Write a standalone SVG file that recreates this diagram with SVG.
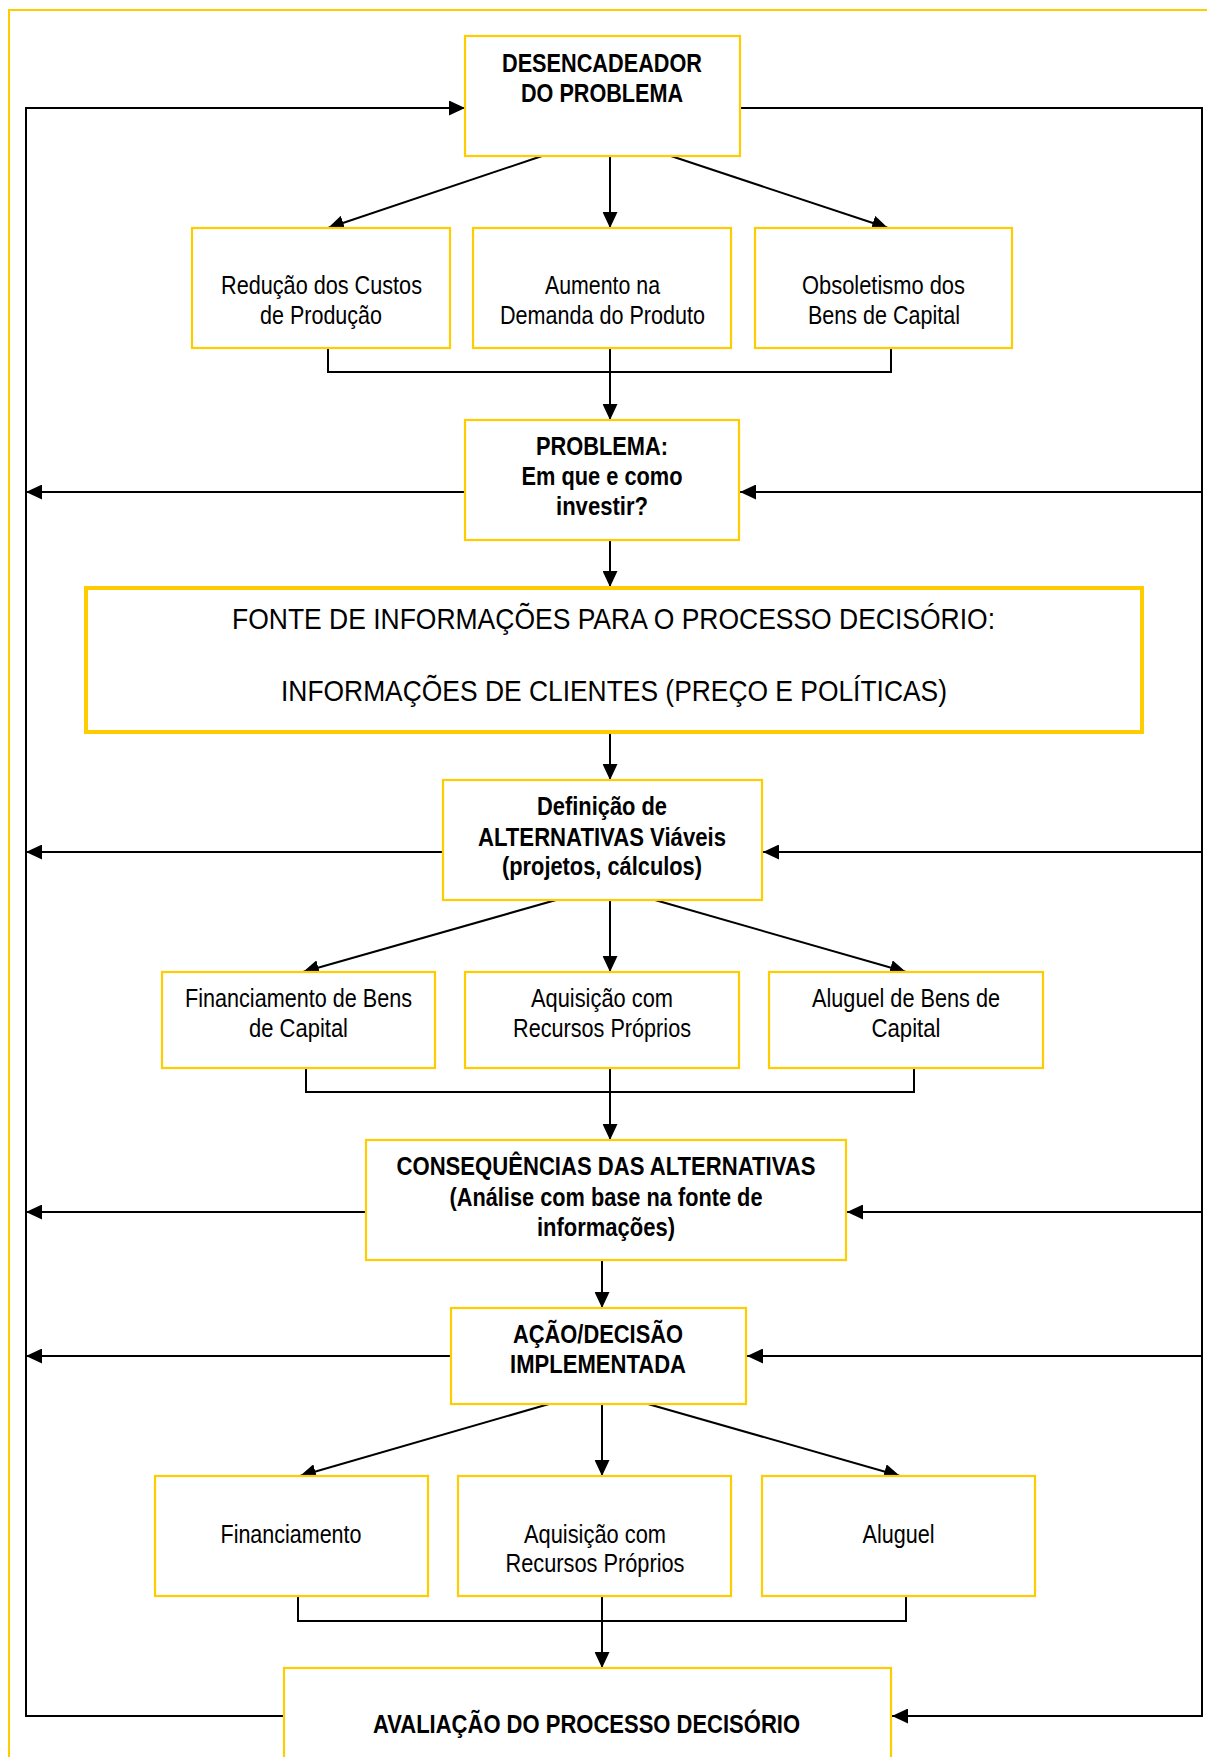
<svg xmlns="http://www.w3.org/2000/svg" width="1207" height="1757" viewBox="0 0 1207 1757">
<style>
.box{fill:#fff;stroke:#FFCC00;stroke-width:2.2}
.big{fill:#fff;stroke:#FFCC00;stroke-width:4}
.c{fill:none;stroke:#000;stroke-width:2}
text{font-family:'Liberation Sans Narrow','Arial Narrow','Liberation Sans',sans-serif;fill:#000;text-anchor:middle}
.h{font-size:26px;font-weight:bold}
.n{font-size:26px;font-weight:normal}
.f{font-size:29px;font-weight:normal}
</style>
<defs>
<marker id="ah" markerUnits="userSpaceOnUse" markerWidth="16" markerHeight="15" refX="16" refY="7.5" orient="auto">
<path d="M0,0 L16,7.5 L0,15 z" fill="#000"/>
</marker>
</defs>
<rect x="9" y="10" width="1215" height="1770" fill="#fff" stroke="#FFCC00" stroke-width="2"/>

<g id="connectors">
<path class="c" d="M284,1716 L26,1716 L26,108 L465,108" marker-end="url(#ah)"/>
<path class="c" d="M740,108 L1202,108 L1202,1716 L892,1716" marker-end="url(#ah)"/>
<path class="c" d="M465,492 L26,492" marker-end="url(#ah)"/>
<path class="c" d="M1202,492 L740,492" marker-end="url(#ah)"/>
<path class="c" d="M443,852 L26,852" marker-end="url(#ah)"/>
<path class="c" d="M1202,852 L763,852" marker-end="url(#ah)"/>
<path class="c" d="M366,1212 L26,1212" marker-end="url(#ah)"/>
<path class="c" d="M1202,1212 L847,1212" marker-end="url(#ah)"/>
<path class="c" d="M451,1356 L26,1356" marker-end="url(#ah)"/>
<path class="c" d="M1202,1356 L747,1356" marker-end="url(#ah)"/>

<path class="c" d="M542,156 L328,228" marker-end="url(#ah)"/>
<path class="c" d="M610,156 L610,228" marker-end="url(#ah)"/>
<path class="c" d="M671,156 L888,228" marker-end="url(#ah)"/>
<path class="c" d="M328,348 L328,372 L891,372 L891,348"/>
<path class="c" d="M610,348 L610,420" marker-end="url(#ah)"/>
<path class="c" d="M610,540 L610,587" marker-end="url(#ah)"/>
<path class="c" d="M610,732 L610,780" marker-end="url(#ah)"/>
<path class="c" d="M556,900 L303,972" marker-end="url(#ah)"/>
<path class="c" d="M610,900 L610,972" marker-end="url(#ah)"/>
<path class="c" d="M655,900 L906,972" marker-end="url(#ah)"/>
<path class="c" d="M306,1068 L306,1092 L914,1092 L914,1068"/>
<path class="c" d="M610,1068 L610,1140" marker-end="url(#ah)"/>
<path class="c" d="M602,1260 L602,1308" marker-end="url(#ah)"/>
<path class="c" d="M549,1404 L300,1476" marker-end="url(#ah)"/>
<path class="c" d="M602,1404 L602,1476" marker-end="url(#ah)"/>
<path class="c" d="M648,1404 L900,1476" marker-end="url(#ah)"/>
<path class="c" d="M298,1596 L298,1621 L906,1621 L906,1596"/>
<path class="c" d="M602,1596 L602,1668" marker-end="url(#ah)"/>
</g>

<g id="desencadeador">
<rect class="box" x="465" y="36" width="275" height="120"/>
<text class="h" x="602" y="72" textLength="200" lengthAdjust="spacingAndGlyphs">DESENCADEADOR</text>
<text class="h" x="602" y="102" textLength="162" lengthAdjust="spacingAndGlyphs">DO PROBLEMA</text>
</g>

<g id="reducao">
<rect class="box" x="192" y="228" width="258" height="120"/>
<text class="n" x="321.5" y="294" textLength="201" lengthAdjust="spacingAndGlyphs">Redução dos Custos</text>
<text class="n" x="321" y="324" textLength="122" lengthAdjust="spacingAndGlyphs">de Produção</text>
</g>

<g id="aumento">
<rect class="box" x="473" y="228" width="258" height="120"/>
<text class="n" x="602.5" y="294" textLength="115" lengthAdjust="spacingAndGlyphs">Aumento na</text>
<text class="n" x="602.5" y="324" textLength="205" lengthAdjust="spacingAndGlyphs">Demanda do Produto</text>
</g>

<g id="obsoletismo">
<rect class="box" x="755" y="228" width="257" height="120"/>
<text class="n" x="883.5" y="294" textLength="163" lengthAdjust="spacingAndGlyphs">Obsoletismo dos</text>
<text class="n" x="884" y="324" textLength="152" lengthAdjust="spacingAndGlyphs">Bens de Capital</text>
</g>

<g id="problema">
<rect class="box" x="465" y="420" width="274" height="120"/>
<text class="h" x="602" y="455" textLength="132" lengthAdjust="spacingAndGlyphs">PROBLEMA:</text>
<text class="h" x="602" y="485" textLength="161" lengthAdjust="spacingAndGlyphs">Em que e como</text>
<text class="h" x="602" y="515" textLength="92" lengthAdjust="spacingAndGlyphs">investir?</text>
</g>

<g id="fonte">
<rect class="big" x="86" y="588" width="1056" height="144"/>
<text class="f" x="613.5" y="629" textLength="763" lengthAdjust="spacingAndGlyphs">FONTE DE INFORMAÇÕES PARA O PROCESSO DECISÓRIO:</text>
<text class="f" x="614" y="701" textLength="666" lengthAdjust="spacingAndGlyphs">INFORMAÇÕES DE CLIENTES (PREÇO E POLÍTICAS)</text>
</g>

<g id="definicao">
<rect class="box" x="443" y="780" width="319" height="120"/>
<text class="h" x="602" y="815" textLength="130" lengthAdjust="spacingAndGlyphs">Definição de</text>
<text class="h" x="602" y="846" textLength="248" lengthAdjust="spacingAndGlyphs">ALTERNATIVAS Viáveis</text>
<text class="h" x="602" y="875" textLength="200" lengthAdjust="spacingAndGlyphs">(projetos, cálculos)</text>
</g>

<g id="financiamento-bens">
<rect class="box" x="162" y="972" width="273" height="96"/>
<text class="n" x="298.5" y="1007" textLength="227" lengthAdjust="spacingAndGlyphs">Financiamento de Bens</text>
<text class="n" x="298.5" y="1037" textLength="99" lengthAdjust="spacingAndGlyphs">de Capital</text>
</g>

<g id="aquisicao-1">
<rect class="box" x="465" y="972" width="274" height="96"/>
<text class="n" x="602" y="1007" textLength="142" lengthAdjust="spacingAndGlyphs">Aquisição com</text>
<text class="n" x="602" y="1037" textLength="178" lengthAdjust="spacingAndGlyphs">Recursos Próprios</text>
</g>

<g id="aluguel-bens">
<rect class="box" x="769" y="972" width="274" height="96"/>
<text class="n" x="906" y="1007" textLength="188" lengthAdjust="spacingAndGlyphs">Aluguel de Bens de</text>
<text class="n" x="906" y="1037" textLength="69" lengthAdjust="spacingAndGlyphs">Capital</text>
</g>

<g id="consequencias">
<rect class="box" x="366" y="1140" width="480" height="120"/>
<text class="h" x="606" y="1175" textLength="419" lengthAdjust="spacingAndGlyphs">CONSEQUÊNCIAS DAS ALTERNATIVAS</text>
<text class="h" x="606" y="1206" textLength="313" lengthAdjust="spacingAndGlyphs">(Análise com base na fonte de</text>
<text class="h" x="606" y="1236" textLength="138" lengthAdjust="spacingAndGlyphs">informações)</text>
</g>

<g id="acao">
<rect class="box" x="451" y="1308" width="295" height="96"/>
<text class="h" x="598" y="1343" textLength="170" lengthAdjust="spacingAndGlyphs">AÇÃO/DECISÃO</text>
<text class="h" x="598" y="1373" textLength="176" lengthAdjust="spacingAndGlyphs">IMPLEMENTADA</text>
</g>

<g id="financiamento">
<rect class="box" x="155" y="1476" width="273" height="120"/>
<text class="n" x="291" y="1543" textLength="141" lengthAdjust="spacingAndGlyphs">Financiamento</text>
</g>

<g id="aquisicao-2">
<rect class="box" x="458" y="1476" width="273" height="120"/>
<text class="n" x="595" y="1543" textLength="142" lengthAdjust="spacingAndGlyphs">Aquisição com</text>
<text class="n" x="595" y="1572" textLength="179" lengthAdjust="spacingAndGlyphs">Recursos Próprios</text>
</g>

<g id="aluguel">
<rect class="box" x="762" y="1476" width="273" height="120"/>
<text class="n" x="898.5" y="1543" textLength="72" lengthAdjust="spacingAndGlyphs">Aluguel</text>
</g>

<g id="avaliacao">
<rect class="box" x="284" y="1668" width="607" height="120"/>
<text class="h" x="586.5" y="1733" textLength="427" lengthAdjust="spacingAndGlyphs">AVALIAÇÃO DO PROCESSO DECISÓRIO</text>
</g>
</svg>
